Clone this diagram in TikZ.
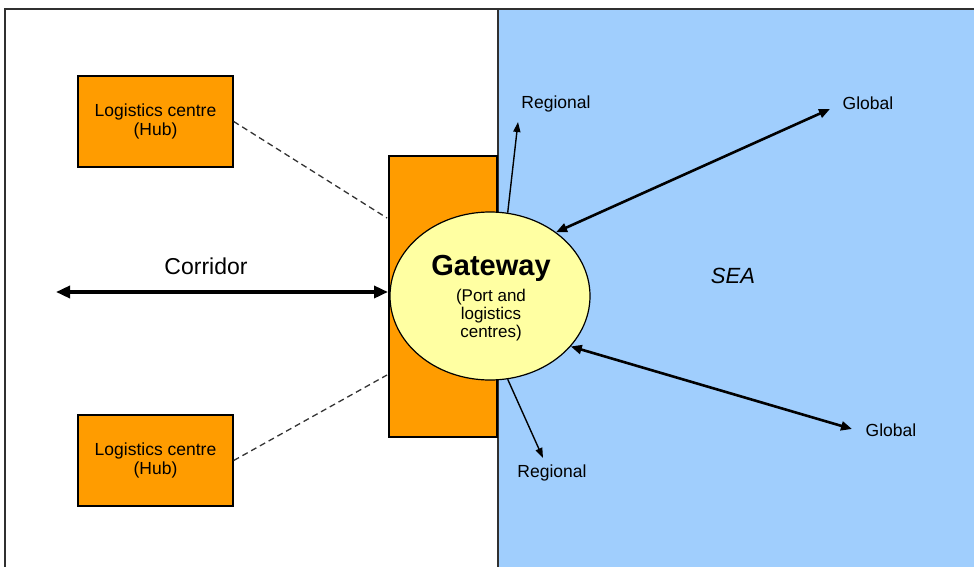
\documentclass[tikz,border=0pt]{standalone}
\usepackage{fontspec}
\setmainfont{Liberation Sans}
\usetikzlibrary{arrows.meta,shapes.geometric}
\definecolor{hubfill}{HTML}{FF9C00}
\definecolor{seafill}{HTML}{A0CEFD}
\definecolor{gatefill}{HTML}{FFFFA2}
\definecolor{framecol}{HTML}{303030}
\tikzset{
  hubbox/.style={draw=black, line width=1.4pt, fill=hubfill, minimum width=155pt,
    minimum height=91pt, inner sep=0pt, align=center,
    font=\fontsize{17.5}{19.5}\selectfont},
  lbl/.style={font=\fontsize{17.5}{19}\selectfont, inner sep=0pt},
  link/.style={draw=black!80, line width=1.3pt, dash pattern=on 6pt off 4pt},
  twoway/.style={line width=2.6pt, {Triangle[length=11pt,width=9pt]}-{Triangle[length=11pt,width=9pt]}},
  oneway/.style={line width=1.4pt, -{Triangle[length=10pt,width=7pt]}},
}
\begin{document}
\begin{tikzpicture}[x=1pt,y=-1pt]
\useasboundingbox (0,0) rectangle (974,567);
% sea area and frame
\fill[seafill] (498,9) rectangle (980,575);
\draw[framecol, line width=1.5pt] (498,9) -- (498,575);
\draw[framecol, line width=1.5pt] (5,575) -- (5,9) -- (980,9);

% gateway block and port
\node[draw=black, line width=1.4pt, fill=hubfill, minimum width=108pt, minimum height=281pt,
  inner sep=0pt] (gatebox) at (443,296.5) {};
\node[ellipse, draw=black, line width=1.2pt, fill=gatefill, minimum width=200pt,
  minimum height=168pt, inner sep=0pt] (gateway) at (490,296) {};
\node[font=\bfseries\fontsize{29}{30}\selectfont, inner sep=0pt] (gtitle) at (491,268) {Gateway};
\node[align=center, font=\fontsize{17}{18}\selectfont, inner sep=0pt] (gsub) at (491,315)
  {(Port and\\logistics\\centres)};

% hubs
\node[hubbox] (hub1) at (155.5,121.5) {Logistics centre\\(Hub)};
\node[hubbox] (hub2) at (155.5,460.5) {Logistics centre\\(Hub)};

\coordinate (d1) at (387,218);
\coordinate (d2) at (387,375);
\draw[link] (hub1.east) -- (d1);
\draw[link] (hub2.east) -- (d2);

% corridor
\coordinate (cw) at (56,292);
\coordinate (ce) at (388,292);
\draw[line width=3.4pt, {Triangle[length=14pt,width=12pt]}-{Triangle[length=14pt,width=12pt]}] (cw) -- (ce);
\node[font=\fontsize{23}{24}\selectfont, inner sep=0pt] (corr) at (206,266) {Corridor};

% sea
\node[font=\itshape\fontsize{22}{23}\selectfont, inner sep=0pt] (sea) at (733,276) {SEA};

% routes
\node[lbl] (rtop) at (556,104) {Regional};
\node[lbl] (gtop) at (868,103) {Global};
\node[lbl] (gbot) at (891,430) {Global};
\node[lbl] (rbot) at (552,473) {Regional};

\coordinate (rtopend) at (518,122);
\coordinate (gtopend) at (830,109);
\coordinate (gbotend) at (852,429);
\coordinate (rbotend) at (543,458);
\draw[oneway] (gateway.78) -- (rtopend);
\draw[oneway] (gateway.-78) -- (rbotend);
\draw[twoway] (gateway.44.5) -- (gtopend);
\draw[twoway] (gateway.-32.7) -- (gbotend);
\end{tikzpicture}
\end{document}
